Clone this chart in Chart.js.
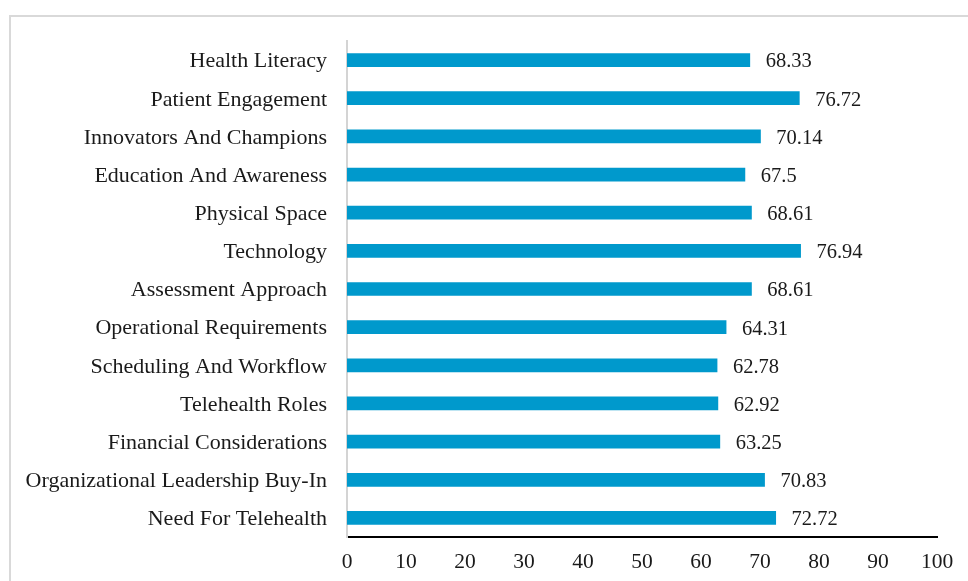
<!DOCTYPE html>
<html>
<head>
<meta charset="utf-8">
<script src="https://cdn.jsdelivr.net/npm/chart.js@4/dist/chart.umd.min.js"></script>
<style>
html,body{margin:0;padding:0;background:#fff;}
#wrap{width:968px;height:581px;position:relative;}
</style>
</head>
<body>
<div id="wrap"><canvas id="c" width="968" height="581"></canvas></div>
<script>
const categories = [
  "Health Literacy",
  "Patient Engagement",
  "Innovators And Champions",
  "Education And Awareness",
  "Physical Space",
  "Technology",
  "Assessment Approach",
  "Operational Requirements",
  "Scheduling And Workflow",
  "Telehealth Roles",
  "Financial Considerations",
  "Organizational Leadership Buy-In",
  "Need For Telehealth"
];
const values = [68.33, 76.72, 70.14, 67.5, 68.61, 76.94, 68.61, 64.31, 62.78, 62.92, 63.25, 70.83, 72.72];
const xTicks = [0, 10, 20, 30, 40, 50, 60, 70, 80, 90, 100];

const FONT = "'Liberation Serif', 'Times New Roman', serif";
const TEXT = "#1a1a1a";

const framePlugin = {
  id: 'frame',
  beforeDraw(chart) {
    const ctx = chart.ctx;
    ctx.save();
    ctx.fillStyle = '#ffffff';
    ctx.fillRect(0, 0, chart.width, chart.height);
    ctx.strokeStyle = '#d9d9d9';
    ctx.lineWidth = 2;
    ctx.beginPath();
    ctx.moveTo(968, 16);
    ctx.lineTo(10, 16);
    ctx.lineTo(10, 581);
    ctx.stroke();
    ctx.restore();
  }
};

const valueLabels = {
  id: 'valueLabels',
  afterDatasetsDraw(chart) {
    const ctx = chart.ctx;
    const meta = chart.getDatasetMeta(0);
    ctx.save();
    ctx.font = "20.5px " + FONT;
    ctx.fillStyle = TEXT;
    ctx.textAlign = 'left';
    ctx.textBaseline = 'middle';
    meta.data.forEach((bar, i) => {
      ctx.fillText(String(values[i]), bar.x + 15.5, bar.y + 2);
    });
    ctx.restore();
  }
};

new Chart(document.getElementById('c'), {
  type: 'bar',
  data: {
    labels: categories,
    datasets: [{
      data: values,
      backgroundColor: '#0099cc',
      borderWidth: 0,
      categoryPercentage: 1.0,
      barPercentage: 0.36
    }]
  },
  options: {
    indexAxis: 'y',
    responsive: false,
    animation: false,
    devicePixelRatio: 1,
    layout: { padding: { top: 41, right: 31, left: 0, bottom: 0 } },
    plugins: {
      legend: { display: false },
      tooltip: { enabled: false }
    },
    scales: {
      x: {
        min: 0,
        max: 100,
        afterBuildTicks(scale) { scale.ticks = xTicks.map(v => ({ value: v })); },
        grid: { display: false, drawTicks: false },
        border: { display: true, color: '#000000', width: 2 },
        ticks: {
          color: TEXT,
          font: { family: FONT, size: 21.5 },
          padding: 12,
          callback: (v) => String(v)
        },
        afterFit(scale) { scale.height = 44; }
      },
      y: {
        grid: { display: false, drawTicks: false },
        border: { display: true, color: '#d4d4d4', width: 2 },
        ticks: {
          color: TEXT,
          font: { family: FONT, size: 22 },
          padding: 20,
          labelOffset: 1.5
        },
        afterFit(scale) { scale.width = 347; }
      }
    }
  },
  plugins: [framePlugin, valueLabels]
});
</script>
</body>
</html>
